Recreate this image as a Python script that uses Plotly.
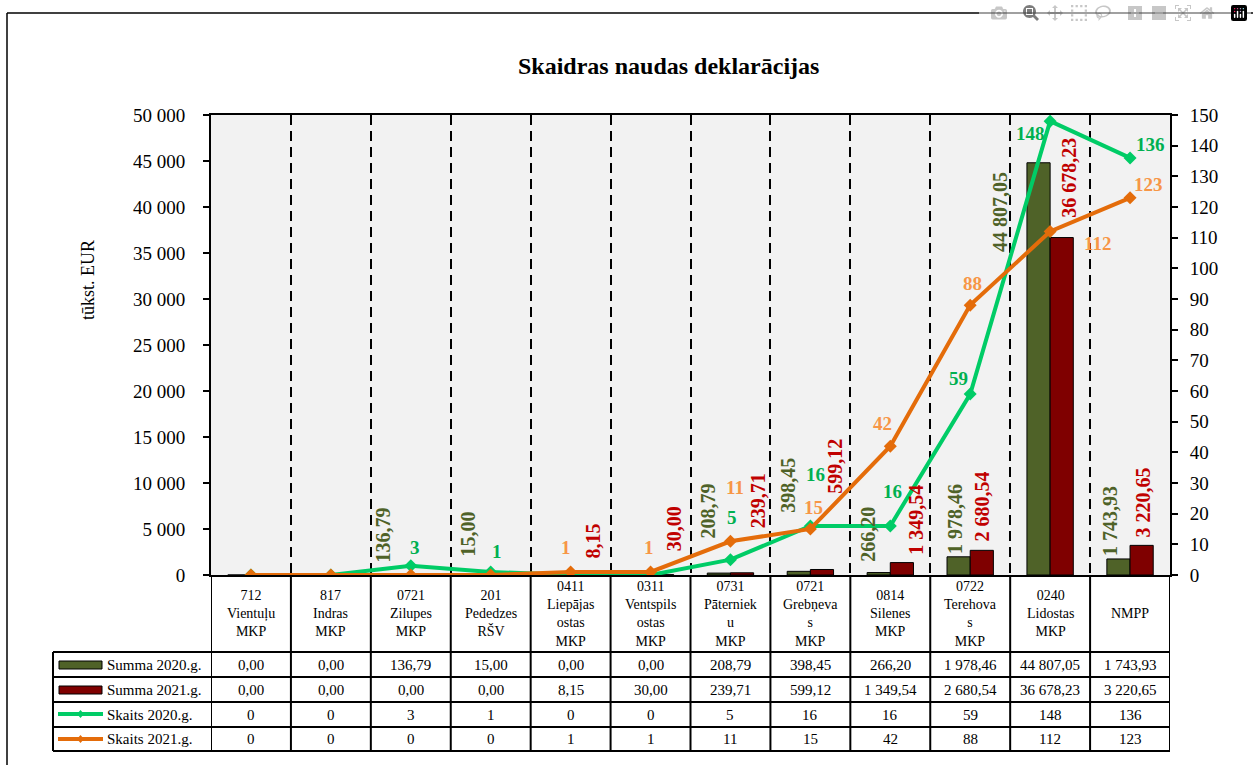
import plotly.graph_objects as go

# ---------------- data ----------------
categories = ["712 Vientuļu MKP", "817 Indras MKP", "0721 Zilupes MKP", "201 Pededzes RŠV",
              "0411 Liepājas ostas MKP", "0311 Ventspils ostas MKP", "0731 Pāternieku MKP",
              "0721 Grebņevas MKP", "0814 Silenes MKP", "0722 Terehovas MKP",
              "0240 Lidostas MKP", "NMPP"]
header_labels = ["712<br>Vientuļu<br>MKP", "817<br>Indras<br>MKP", "0721<br>Zilupes<br>MKP",
                 "201<br>Pededzes<br>RŠV", "0411<br>Liepājas<br>ostas<br>MKP",
                 "0311<br>Ventspils<br>ostas<br>MKP", "0731<br>Pāterniek<br>u<br>MKP",
                 "0721<br>Grebņeva<br>s<br>MKP", "0814<br>Silenes<br>MKP",
                 "0722<br>Terehova<br>s<br>MKP", "0240<br>Lidostas<br>MKP", "NMPP"]
summa_2020 = [0.00, 0.00, 136.79, 15.00, 0.00, 0.00, 208.79, 398.45, 266.20, 1978.46, 44807.05, 1743.93]
summa_2021 = [0.00, 0.00, 0.00, 0.00, 8.15, 30.00, 239.71, 599.12, 1349.54, 2680.54, 36678.23, 3220.65]
skaits_2020 = [0, 0, 3, 1, 0, 0, 5, 16, 16, 59, 148, 136]
skaits_2021 = [0, 0, 0, 0, 1, 1, 11, 15, 42, 88, 112, 123]
series_names = ["Summa 2020.g.", "Summa 2021.g.", "Skaits 2020.g.", "Skaits 2021.g."]
title_text = "Skaidras naudas deklarācijas"
y_title = "tūkst. EUR"

# ---------------- style ----------------
W, H = 1253, 765
FONT = "Liberation Serif, Times New Roman, serif"
C_BAR20 = "#4F6228"
C_BAR21 = "#7F0000"
C_LBL20 = "#4F6228"
C_LBL21 = "#C00000"
C_LINE20 = "#00CC66"
C_LINE21 = "#E46C0A"
C_TXT20 = "#00B050"
C_TXT21 = "#F79646"

PX_L, PX_R, PX_T, PX_B = 211, 1170, 115, 575


def px(x):
    return x / W


def py(y):
    return 1 - y / H


def fmt2(v):
    return f"{v:,.2f}".replace(",", " ").replace(".", ",")


# label offsets (dx, dy up) in pixels relative to the data point
off_bar20 = [None, None, (-28, 39), (-23, 41), None, None, (-22, 62), (-22, 86), (-23, 38), (-15, 38), (-50, -49), (-20, 38)]
off_bar21 = [None, None, None, None, (22, 34), (23, 46), (27, 72), (25, 103), (25, 43), (12, 44), (18, 60), (13, 43)]
off_ln20 = [None, None, (4, 18), (6, 20), None, None, (2, 42), (5, 51), (2, 34), (-12, 16), (-20, -12), (20, 13)]
off_ln21 = [None, None, None, None, (-5, 24), (-2, 24), (5, 54), (3, 22), (-8, 23), (2, 22), (47, -12), (18, 13)]

fig = go.Figure()
fig.add_trace(go.Bar(x=categories, y=summa_2020, name=series_names[0], marker=dict(color=C_BAR20, line=dict(color="black", width=1))))
fig.add_trace(go.Bar(x=categories, y=summa_2021, name=series_names[1], marker=dict(color=C_BAR21, line=dict(color="black", width=1))))
fig.add_trace(go.Scatter(x=categories, y=skaits_2020, name=series_names[2], yaxis="y2", mode="lines+markers",
                         line=dict(color=C_LINE20, width=4), marker=dict(symbol="diamond", size=10, color=C_LINE20)))
fig.add_trace(go.Scatter(x=categories, y=skaits_2021, name=series_names[3], yaxis="y2", mode="lines+markers",
                         line=dict(color=C_LINE21, width=4), marker=dict(symbol="diamond", size=10, color=C_LINE21)))

ann = []
C = dict(xanchor="center", yanchor="middle", showarrow=False)
# value labels
for vals, offs, col in [(summa_2020, off_bar20, C_LBL20), (summa_2021, off_bar21, C_LBL21)]:
    for c, v, o in zip(categories, vals, offs):
        if o is None:
            continue
        ann.append(dict(x=c, y=v, xref="x", yref="y", xshift=o[0], yshift=o[1], text=f"<b>{fmt2(v)}</b>",
                        textangle=-90, font=dict(family=FONT, size=20, color=col), **C))
for vals, offs, col in [(skaits_2020, off_ln20, C_TXT20), (skaits_2021, off_ln21, C_TXT21)]:
    for c, v, o in zip(categories, vals, offs):
        if o is None:
            continue
        ann.append(dict(x=c, y=v, xref="x", yref="y2", xshift=o[0], yshift=o[1], text=f"<b>{v}</b>",
                        font=dict(family=FONT, size=19, color=col), **C))

# title & axis title
ann.append(dict(x=px(668), y=py(66), xref="paper", yref="paper", text=f"<b>{title_text}</b>",
                font=dict(family=FONT, size=24, color="black"), **C))
ann.append(dict(x=px(88), y=py(280), xref="paper", yref="paper", text=y_title, textangle=-90,
                font=dict(family=FONT, size=18, color="black"), **C))

# data table
hdr_font = dict(family=FONT, size=14, color="black")
cell_font = dict(family=FONT, size=15, color="black")
for c, lab in zip(categories, header_labels):
    ann.append(dict(x=c, y=py(613.5), xref="x", yref="paper", text=lab, font=hdr_font, **C))
row_y = [665, 690, 715, 739]
rows = [[fmt2(v) for v in summa_2020], [fmt2(v) for v in summa_2021],
        [str(v) for v in skaits_2020], [str(v) for v in skaits_2021]]
for ry, row, nm in zip(row_y, rows, series_names):
    ann.append(dict(x=px(105), y=py(ry), xref="paper", yref="paper", xanchor="left", yanchor="middle",
                    text=nm, showarrow=False, font=cell_font))
    for c, t in zip(categories, row):
        ann.append(dict(x=c, y=py(ry), xref="x", yref="paper", text=t, font=cell_font, **C))

shapes = []
# outer border
shapes.append(dict(type="line", xref="paper", yref="paper", x0=px(7), x1=px(7), y0=py(13), y1=0, line=dict(color="black", width=1.5)))
shapes.append(dict(type="line", xref="paper", yref="paper", x0=px(7), x1=1, y0=py(13), y1=py(13), line=dict(color="black", width=1.5)))
# table vertical lines
for k in range(len(categories) + 1):
    shapes.append(dict(type="line", xref="x", yref="paper", x0=k - 0.5, x1=k - 0.5, y0=py(PX_B), y1=py(751), line=dict(color="black", width=2)))
shapes.append(dict(type="line", xref="paper", yref="paper", x0=px(53), x1=px(53), y0=py(652), y1=py(751), line=dict(color="black", width=2)))
for hy in [652, 677, 702, 727, 751]:
    shapes.append(dict(type="line", xref="paper", yref="paper", x0=px(53), x1=px(PX_R), y0=py(hy), y1=py(hy), line=dict(color="black", width=2)))
# legend keys
for ry, col in [(665, C_BAR20), (690, C_BAR21)]:
    shapes.append(dict(type="rect", xref="paper", yref="paper", x0=px(59), x1=px(102), y0=py(ry - 4), y1=py(ry + 4),
                       fillcolor=col, line=dict(color="black", width=1)))
for ry, col in [(714, C_LINE20), (739, C_LINE21)]:
    shapes.append(dict(type="line", xref="paper", yref="paper", x0=px(58), x1=px(103), y0=py(ry), y1=py(ry), line=dict(color=col, width=4)))
    shapes.append(dict(type="path", xref="paper", yref="paper",
                       path=f"M {px(80.5)} {py(ry-4)} L {px(84)} {py(ry)} L {px(80.5)} {py(ry+4)} L {px(77)} {py(ry)} Z",
                       fillcolor=col, line=dict(color=col, width=0)))

fig.update_layout(
    template="none",
    width=W, height=H, margin=dict(l=0, r=0, t=0, b=0, pad=0, autoexpand=False),
    paper_bgcolor="white", plot_bgcolor="#F2F2F2",
    barmode="group", bargap=0.42, bargroupgap=0,
    showlegend=False, separators=", ",
    font=dict(family=FONT, size=19, color="black"),
    xaxis=dict(domain=[px(PX_L), px(PX_R)], range=[-0.5, len(categories) - 0.5], showticklabels=False,
               ticks="", tickson="boundaries", showgrid=True, gridcolor="black", gridwidth=1.5, griddash="10px,6px",
               showline=True, linecolor="black", linewidth=2, mirror=True, zeroline=False, automargin=False),
    yaxis=dict(domain=[py(PX_B), py(PX_T)], range=[0, 50000], dtick=5000, tickformat=",d", showgrid=False,
               zeroline=False, showline=True, linecolor="black", linewidth=2, ticks="outside", ticklen=6,
               tickwidth=2, tickcolor="black", ticklabelstandoff=14, tickfont=dict(family=FONT, size=19),
               automargin=False),
    yaxis2=dict(overlaying="y", side="right", range=[0, 150], dtick=10, showgrid=False, zeroline=False,
                showline=True, linecolor="black", linewidth=2, ticks="outside", ticklen=6, tickwidth=2,
                tickcolor="black", ticklabelstandoff=8, tickfont=dict(family=FONT, size=19), automargin=False),
    annotations=ann, shapes=shapes,
)

fig.write_html("out.html", post_script="document.body.style.margin='0';document.body.style.overflow='hidden';")
